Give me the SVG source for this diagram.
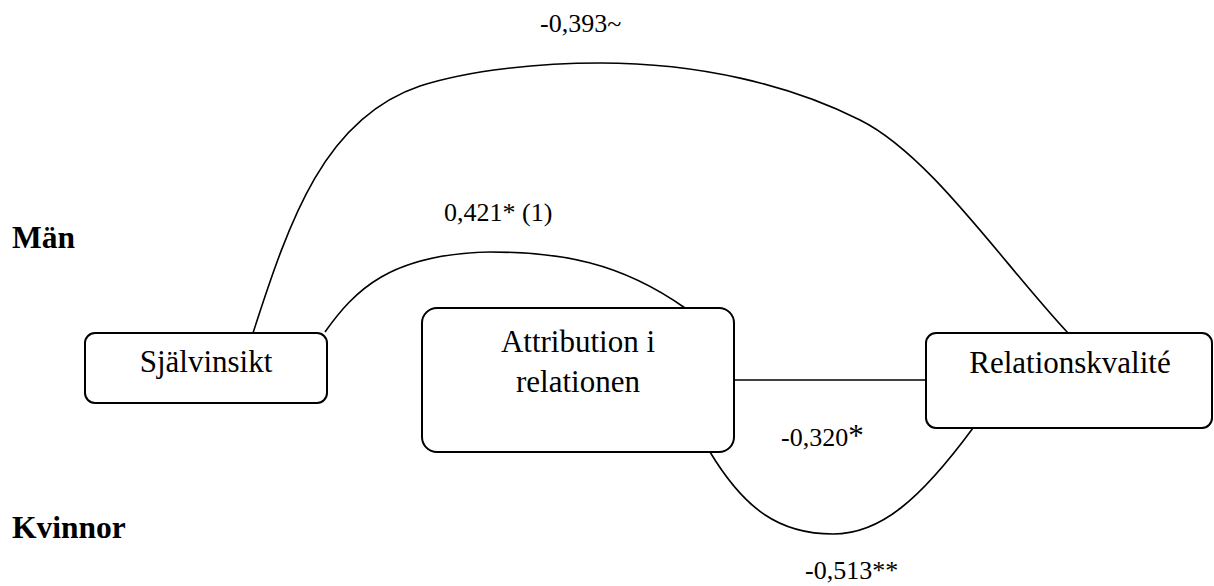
<svg xmlns="http://www.w3.org/2000/svg" width="1214" height="586" viewBox="0 0 1214 586">
<style>
.box{fill:#fff;stroke:#000;stroke-width:2}
.node{font-family:"Liberation Serif","Times New Roman",serif;font-size:31px;fill:#000;text-anchor:middle}
.lbl{font-family:"Liberation Serif","Times New Roman",serif;font-size:26px;fill:#000}
.grp{font-family:"Liberation Serif","Times New Roman",serif;font-size:31.5px;font-weight:bold;fill:#000}
.con{fill:none;stroke:#000;stroke-width:1.6}
</style>
<rect width="1214" height="586" fill="#fff"/>
<g id="connectors">
<path class="con" d="M253,333 C290,218 325,118 420,86 C470,70 540,63 600,63 C700,63 790,85 860,120 C930,155 1000,260 1068,333"/>
<path class="con" d="M325,332 C355,290 390,254 490,252 C560,252 620,262 685,308"/>
<path class="con" d="M734,380 L926,380"/>
<path class="con" d="M710,452 C745,510 780,534 833,534 C880,534 920,500 973,428"/>
</g>
<g id="node-sjalvinsikt">
<rect class="box" x="85" y="333" width="242" height="70" rx="10"/>
<text class="node" x="206" y="372">Självinsikt</text>
</g>
<g id="node-attribution">
<rect class="box" x="422" y="308" width="312" height="144" rx="15"/>
<text class="node" x="578" y="352">Attribution i</text>
<text class="node" x="578" y="392">relationen</text>
</g>
<g id="node-relationskvalite">
<rect class="box" x="926" y="333" width="286" height="95" rx="10"/>
<text class="node" x="1070" y="373">Relationskvalité</text>
</g>
<g id="labels">
<text class="lbl" x="540" y="32">-0,393~</text>
<text class="lbl" x="444" y="221">0,421* (1)</text>
<text class="lbl" x="781" y="446">-0,320<tspan font-size="31px">*</tspan></text>
<text class="lbl" x="805" y="579">-0,513**</text>
<text class="grp" x="12" y="248">Män</text>
<text class="grp" x="12" y="538">Kvinnor</text>
</g>
</svg>
